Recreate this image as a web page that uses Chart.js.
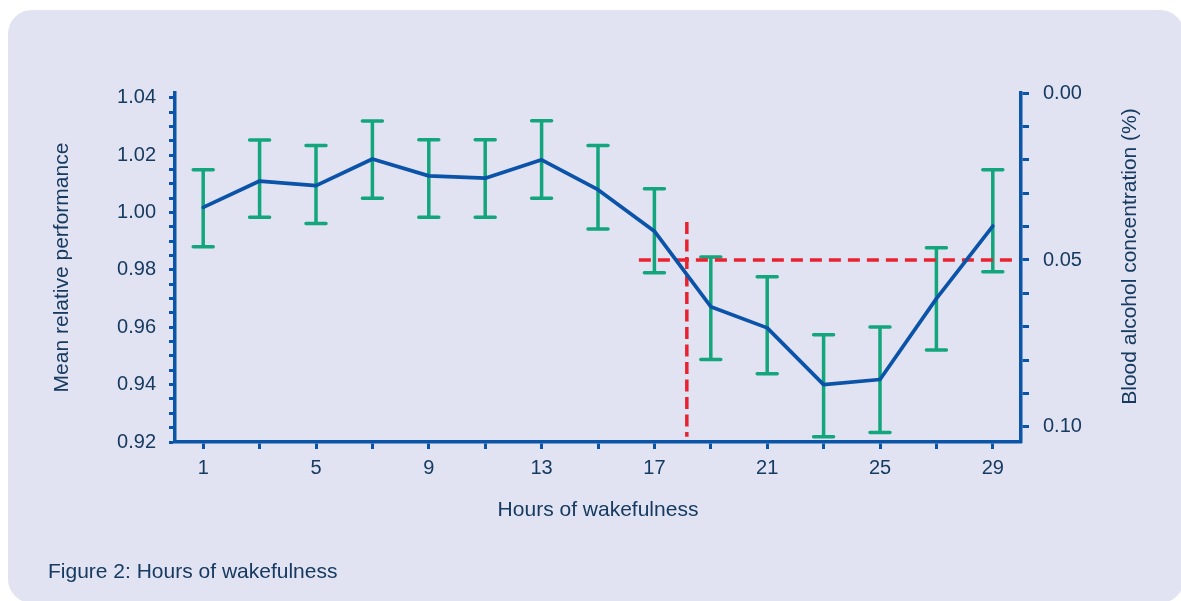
<!DOCTYPE html>
<html>
<head>
<meta charset="utf-8">
<script src="https://cdn.jsdelivr.net/npm/chart.js@4.4.1/dist/chart.umd.min.js"></script>
<style>
  html, body { margin:0; padding:0; background:#ffffff; width:1181px; height:601px; overflow:hidden; }
  #panel { position:absolute; left:8px; top:10px; width:1176px; height:593px; background:#e1e3f2; border-radius:24px; }
  #wrap { position:absolute; left:0; top:0; width:1181px; height:601px; }
  #caption { position:absolute; left:48px; top:558px; font-family:"Liberation Sans", Arial, sans-serif; font-size:21px; color:#163a60; line-height:26px; }
</style>
</head>
<body>
<div id="panel"></div>
<div id="wrap"><canvas id="c"></canvas></div>
<div id="caption">Figure 2: Hours of wakefulness</div>
<script>
// ---- data ----
const hours = [1, 3, 5, 7, 9, 11, 13, 15, 17, 19, 21, 23, 25, 27, 29];
const performance = [1.0018, 1.0110, 1.0094, 1.0187, 1.0128, 1.0120, 1.0184, 1.0080, 0.9935, 0.9672, 0.9598, 0.9400, 0.9418, 0.9700, 0.9953];
const errHigh = [1.0149, 1.0253, 1.0234, 1.0319, 1.0254, 1.0254, 1.0320, 1.0234, 1.0083, 0.9845, 0.9776, 0.9574, 0.9601, 0.9877, 1.0149];
const errLow  = [0.9881, 0.9984, 0.9962, 1.0050, 0.9984, 0.9984, 1.0050, 0.9943, 0.9790, 0.9488, 0.9438, 0.9218, 0.9233, 0.9521, 0.9794];

const xTickValues = [1, 3, 5, 7, 9, 11, 13, 15, 17, 19, 21, 23, 25, 27, 29];
const xTickLabels = ['1', '', '5', '', '9', '', '13', '', '17', '', '21', '', '25', '', '29'];
const leftTickValues = [0.92, 0.925, 0.93, 0.935, 0.94, 0.945, 0.95, 0.955, 0.96, 0.965, 0.97, 0.975, 0.98, 0.985, 0.99, 0.995, 1.00, 1.005, 1.01, 1.015, 1.02, 1.025, 1.03, 1.035, 1.04];
const leftTickLabels = ['0.92', '', '', '', '0.94', '', '', '', '0.96', '', '', '', '0.98', '', '', '', '1.00', '', '', '', '1.02', '', '', '', '1.04'];
const rightTickValues = [0.00, 0.01, 0.02, 0.03, 0.04, 0.05, 0.06, 0.07, 0.08, 0.09, 0.10];
const rightTickLabels = ['0.00', '', '', '', '', '0.05', '', '', '', '', '0.10'];

// red reference lines
const bacThreshold = 0.05;
const thresholdHourRange = [16.45, 29.8];
const crossingHour = 18.15;
const crossingPerfRange = [0.9967, 0.9218];

const leftTitle = 'Mean relative performance';
const rightTitle = 'Blood alcohol concentration (%)';
const xTitle = 'Hours of wakefulness';

// ---- styles ----
const axisColor = '#0a55a8';
const textColor = '#163a60';
const lineColor = '#0a53a8';
const errColor = '#13a57c';
const redColor = '#e8232f';
const FONT = '"Liberation Sans", Arial, sans-serif';

const errorBarPlugin = {
  id: 'errorBars',
  beforeDatasetsDraw(chart) {
    const { ctx, scales: { x, y } } = chart;
    ctx.save();
    ctx.strokeStyle = errColor;
    ctx.lineWidth = 3.5;
    ctx.lineCap = 'round';
    const half = 10;
    hours.forEach((h, i) => {
      const px = x.getPixelForValue(h);
      const top = y.getPixelForValue(errHigh[i]);
      const bot = y.getPixelForValue(errLow[i]);
      ctx.beginPath();
      ctx.moveTo(px, top); ctx.lineTo(px, bot);
      ctx.moveTo(px - half, top); ctx.lineTo(px + half, top);
      ctx.moveTo(px - half, bot); ctx.lineTo(px + half, bot);
      ctx.stroke();
    });
    ctx.restore();
  }
};

const rightTitlePlugin = {
  id: 'rightTitle',
  afterDraw(chart) {
    const { ctx, chartArea } = chart;
    ctx.save();
    ctx.translate(1130, (chartArea.top + chartArea.bottom) / 2 - 11);
    ctx.rotate(-Math.PI / 2);
    ctx.font = '21px ' + FONT;
    ctx.fillStyle = textColor;
    ctx.textAlign = 'center';
    ctx.textBaseline = 'middle';
    ctx.fillText(rightTitle, 0, 0);
    ctx.restore();
  }
};

new Chart(document.getElementById('c'), {
  type: 'line',
  data: {
    datasets: [
      {
        data: hours.map((h, i) => ({ x: h, y: performance[i] })),
        xAxisID: 'x', yAxisID: 'y',
        borderColor: lineColor, borderWidth: 3.7, pointRadius: 0, tension: 0,
        borderJoinStyle: 'round', borderCapStyle: 'round', fill: false
      },
      {
        data: thresholdHourRange.map(h => ({ x: h, y: bacThreshold })),
        xAxisID: 'x', yAxisID: 'y2',
        borderColor: redColor, borderWidth: 3.5, borderDash: [12, 7], pointRadius: 0, fill: false
      },
      {
        data: crossingPerfRange.map(v => ({ x: crossingHour, y: v })),
        xAxisID: 'x', yAxisID: 'y',
        borderColor: redColor, borderWidth: 3.5, borderDash: [12, 5.5], pointRadius: 0, fill: false
      }
    ]
  },
  options: {
    responsive: true,
    maintainAspectRatio: false,
    animation: false,
    events: [],
    layout: { padding: { left: 50, right: 0, top: 93, bottom: 78 } },
    plugins: { legend: { display: false }, tooltip: { enabled: false }, title: { display: false } },
    scales: {
      x: {
        type: 'linear', position: 'bottom', min: 0, max: 30,
        afterBuildTicks(s) { s.ticks = xTickValues.map(v => ({ value: v })); },
        afterFit(s) { s.height = 81; },
        ticks: {
          autoSkip: false, maxRotation: 0, padding: 7,
          color: textColor, font: { family: FONT, size: 20 },
          callback(v) { const i = xTickValues.indexOf(v); return i >= 0 ? xTickLabels[i] : ''; }
        },
        grid: { drawOnChartArea: false, drawTicks: true, tickLength: 7, tickColor: axisColor, tickWidth: 3 },
        border: { display: true, color: axisColor, width: 3.5 },
        title: { display: true, text: xTitle, color: textColor, font: { family: FONT, size: 21 }, padding: { top: 0, bottom: 0 } }
      },
      y: {
        type: 'linear', position: 'left', min: 0.92, max: 1.0417,
        afterBuildTicks(s) { s.ticks = leftTickValues.map(v => ({ value: v })); },
        afterFit(s) { s.width = 125; },
        ticks: {
          autoSkip: false, padding: 13,
          color: textColor, font: { family: FONT, size: 20 },
          callback(v, i) { return leftTickLabels[i]; }
        },
        grid: { drawOnChartArea: false, drawTicks: true, tickLength: 6, tickColor: axisColor, tickWidth: 3 },
        border: { display: true, color: axisColor, width: 3.5 },
        title: { display: true, text: leftTitle, color: textColor, font: { family: FONT, size: 21 }, padding: { top: 0, bottom: 0 } }
      },
      y2: {
        type: 'linear', position: 'right', reverse: true, min: 0, max: 0.1045,
        afterBuildTicks(s) { s.ticks = rightTickValues.map(v => ({ value: v })); },
        afterFit(s) { s.width = 160; },
        ticks: {
          autoSkip: false, padding: 14,
          color: textColor, font: { family: FONT, size: 20 },
          callback(v, i) { return rightTickLabels[i]; }
        },
        grid: { drawOnChartArea: false, drawTicks: true, tickLength: 8, tickColor: axisColor, tickWidth: 3 },
        border: { display: true, color: axisColor, width: 3.5 },
        title: { display: false }
      }
    }
  },
  plugins: [errorBarPlugin, rightTitlePlugin]
});
</script>
</body>
</html>
